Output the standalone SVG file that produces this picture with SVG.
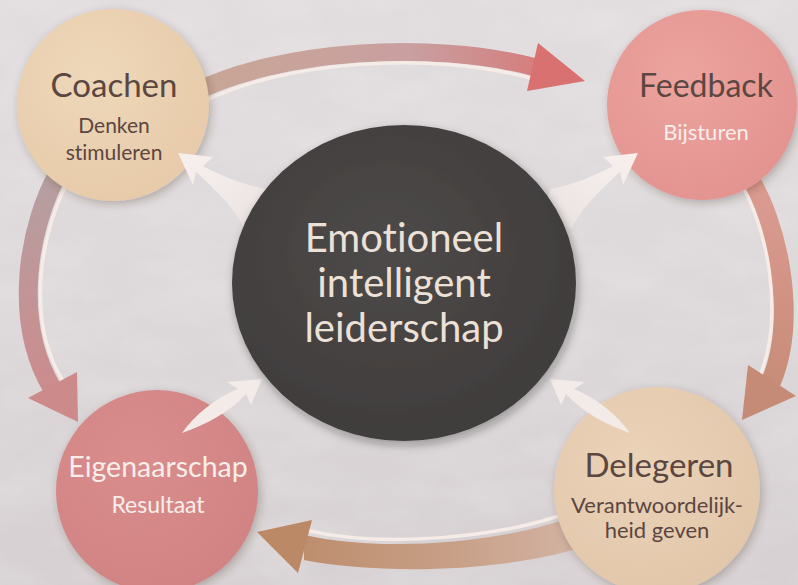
<svg xmlns="http://www.w3.org/2000/svg" width="798" height="585" viewBox="0 0 798 585">
<defs>
<style>
.t{font-family:Lato,"Open Sans","Noto Sans",sans-serif;text-anchor:middle;font-variant-ligatures:none}
.dark{fill:#5b4641}
.light{fill:#f7eeea}
.ctr{fill:#ece1d7;font-size:40px}
.wline{fill:none;stroke:#f5ebe7;stroke-width:3.5;stroke-linecap:round}
</style>
<linearGradient id="bg" x1="0" y1="0" x2="0" y2="1">
<stop offset="0" stop-color="#e1dcde"/><stop offset="0.5" stop-color="#ddd8da"/><stop offset="1" stop-color="#d6d0d2"/>
</linearGradient>
<filter id="paper" x="0" y="0" width="100%" height="100%">
<feTurbulence type="fractalNoise" baseFrequency="0.012 0.025" numOctaves="4" seed="7"/>
<feColorMatrix type="matrix" values="0 0 0 0 1 0 0 0 0 1 0 0 0 0 1 0.6 0 0 0 -0.2"/>
</filter>
<filter id="sh" x="-20%" y="-20%" width="140%" height="140%">
<feDropShadow dx="2" dy="3" stdDeviation="4" flood-color="#3a2a28" flood-opacity="0.28"/>
</filter>
<filter id="shc" x="-20%" y="-20%" width="140%" height="140%">
<feDropShadow dx="2" dy="4" stdDeviation="5" flood-color="#201818" flood-opacity="0.35"/>
</filter>
<linearGradient id="gTop" gradientUnits="userSpaceOnUse" x1="200" y1="0" x2="585" y2="0">
<stop offset="0" stop-color="#c8a696"/><stop offset="0.55" stop-color="#c99fa0"/><stop offset="1" stop-color="#d9716f"/>
</linearGradient>
<linearGradient id="gRight" gradientUnits="userSpaceOnUse" x1="0" y1="185" x2="0" y2="420">
<stop offset="0" stop-color="#dc9b92"/><stop offset="1" stop-color="#c48a74"/>
</linearGradient>
<linearGradient id="gLeft" gradientUnits="userSpaceOnUse" x1="0" y1="180" x2="0" y2="420">
<stop offset="0" stop-color="#b69fa1"/><stop offset="1" stop-color="#cf898a"/>
</linearGradient>
<linearGradient id="gBot" gradientUnits="userSpaceOnUse" x1="258" y1="0" x2="575" y2="0">
<stop offset="0" stop-color="#bb8966"/><stop offset="0.6" stop-color="#c79f86"/><stop offset="1" stop-color="#d3b3a3"/>
</linearGradient>
<linearGradient id="gW1" x1="0" y1="0" x2="1" y2="1">
<stop offset="0" stop-color="#f7f0ed"/><stop offset="0.5" stop-color="#f2eae8"/><stop offset="1" stop-color="#ebe4e3" stop-opacity="0.7"/>
</linearGradient>
<radialGradient id="gC" cx="0.45" cy="0.4" r="0.65">
<stop offset="0" stop-color="#4e4a49"/><stop offset="1" stop-color="#3f3b3b"/>
</radialGradient>
<radialGradient id="gCoach" cx="0.4" cy="0.35" r="0.7">
<stop offset="0" stop-color="#eed8ba"/><stop offset="1" stop-color="#e7caa9"/>
</radialGradient>
<radialGradient id="gFeed" cx="0.4" cy="0.35" r="0.7">
<stop offset="0" stop-color="#eca39e"/><stop offset="1" stop-color="#e39390"/>
</radialGradient>
<radialGradient id="gEig" cx="0.4" cy="0.35" r="0.7">
<stop offset="0" stop-color="#da8d8d"/><stop offset="1" stop-color="#d18383"/>
</radialGradient>
<radialGradient id="gDel" cx="0.4" cy="0.35" r="0.7">
<stop offset="0" stop-color="#ebd3b8"/><stop offset="1" stop-color="#e2c6aa"/>
</radialGradient>
</defs>

<rect width="798" height="585" fill="url(#bg)"/>
<rect width="798" height="585" filter="url(#paper)" opacity="0.5"/>

<g id="connectors">
  <path d="M 195 92 C 280 50, 430 40, 534 67" fill="none" stroke="url(#gTop)" stroke-width="18"/>
  <path class="wline" d="M 205 101 C 285 61, 430 51, 530 78"/>
  <polygon points="538,43 585,81 527,91" fill="#d8716f"/>
  <path d="M 745 172 C 780 225, 797 320, 771 382" fill="none" stroke="url(#gRight)" stroke-width="20"/>
  <path class="wline" d="M 737 177 C 770 228, 784 320, 759 378"/>
  <polygon points="748,365 796,396 742,420" fill="#c58b76"/>
  <path d="M 580 514 C 500 545, 380 552, 304 535 L 304 560 C 380 575, 500 572, 580 548 Z" fill="url(#gBot)"/>
  <path class="wline" d="M 578 509 C 500 540, 380 547, 310 531"/>
  <polygon points="312,520 257,532 298,573" fill="#bb8966"/>
  <path d="M 60 170 C 28 225, 12 320, 52 388" fill="none" stroke="url(#gLeft)" stroke-width="19"/>
  <path class="wline" d="M 71 176 C 40 230, 25 320, 63 381"/>
  <polygon points="28,398 77,372 78,422" fill="#cd8a8a"/>
</g>

<g id="node-coachen">
  <circle cx="113" cy="105" r="96" fill="url(#gCoach)" filter="url(#sh)"/>
  <text class="t dark" x="114" y="97" font-size="33">Coachen</text>
  <text class="t dark" x="114" y="133" font-size="21">Denken</text>
  <text class="t dark" x="114" y="160" font-size="21">stimuleren</text>
</g>
<g id="node-feedback">
  <circle cx="702" cy="105" r="95" fill="url(#gFeed)" filter="url(#sh)"/>
  <text class="t dark" x="706" y="97" font-size="32">Feedback</text>
  <text class="t light" x="706" y="140" font-size="22">Bijsturen</text>
</g>
<g id="node-eigenaarschap">
  <circle cx="157" cy="491" r="101" fill="url(#gEig)" filter="url(#sh)"/>
  <text class="t light" x="158" y="477" font-size="28.5">Eigenaarschap</text>
  <text class="t light" x="158" y="513" font-size="23">Resultaat</text>
</g>
<g id="node-delegeren">
  <circle cx="657" cy="490" r="103" fill="url(#gDel)" filter="url(#sh)"/>
  <text class="t dark" x="659" y="477" font-size="33">Delegeren</text>
  <text class="t dark" x="657" y="513" font-size="22">Verantwoordelijk-</text>
  <text class="t dark" x="657" y="538" font-size="22">heid geven</text>
</g>

<g id="connectors-inner">
  <path d="M 178 153 L 213 157 L 203 166 C 222 176, 240 184, 266 189 L 275 222 L 244 228 C 236 210, 214 188, 196 172 L 193 185 Z" fill="url(#gW1)"/>
  <path transform="translate(816,0) scale(-1,1)" d="M 178 153 L 213 157 L 203 166 C 222 176, 240 184, 266 189 L 275 222 L 244 228 C 236 210, 214 188, 196 172 L 193 185 Z" fill="url(#gW1)"/>
  <path d="M 262 379 L 227 382 L 238 389 C 215 398, 195 415, 182 433 C 205 425, 230 412, 246 394 L 251 405 Z" fill="#f3ebe8"/>
  <path transform="translate(812,0) scale(-1,1)" d="M 262 379 L 227 382 L 238 389 C 215 398, 195 415, 182 433 C 205 425, 230 412, 246 394 L 251 405 Z" fill="#f3ebe8"/>
</g>

<g id="node-center">
  <ellipse cx="404" cy="283" rx="172" ry="158" fill="url(#gC)" filter="url(#shc)"/>
  <text class="t ctr" x="404" y="252">Emotioneel</text>
  <text class="t ctr" x="404" y="297">intelligent</text>
  <text class="t ctr" x="404" y="342">leiderschap</text>
</g>
</svg>
